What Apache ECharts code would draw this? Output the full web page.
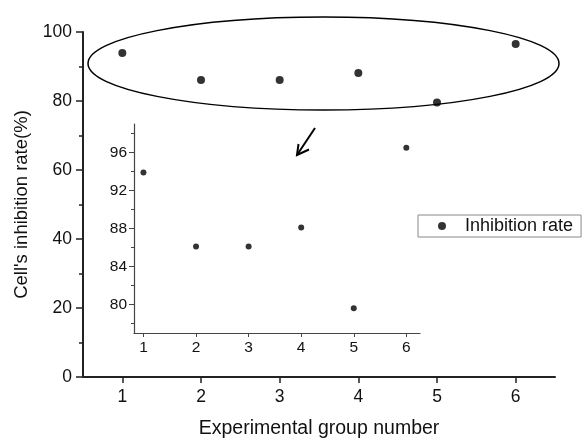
<!DOCTYPE html>
<html>
<head>
<meta charset="utf-8">
<script src="https://cdn.jsdelivr.net/npm/echarts@6/dist/echarts.min.js"></script>
<style>
  html, body { margin: 0; padding: 0; background: #fff; }
  #chart { width: 582px; height: 444px; }
</style>
</head>
<body>
<div id="chart"></div>
<script>
// data
const groups = [1, 2, 3, 4, 5, 6]
const inhibitionRate = [93.9, 86.1, 86.1, 88.1, 79.6, 96.5]
const insetYTicks = [80, 84, 88, 92, 96]
const insetYMinorTicks = [78, 82, 86, 90, 94, 98]

const points = groups.map((g, i) => [g, inhibitionRate[i]])

const font = "'Liberation Sans', Arial, sans-serif"
const ink = '#111'

const myChart = echarts.init(document.getElementById('chart'), null, { renderer: 'canvas' })

const option = {
  backgroundColor: '#fff',
  animation: false,
  textStyle: { fontFamily: font, color: ink },
  legend: {
    data: ['Inhibition rate'],
    left: 418,
    top: 215,
    padding: [2, 8, 2, 20],
    borderColor: '#888',
    borderWidth: 1,
    icon: 'circle',
    itemWidth: 36,
    itemHeight: 8,
    itemStyle: { color: '#000' },
    textStyle: { fontSize: 18, color: ink, fontFamily: font }
  },
  grid: [
    // main plot
    { left: 83, top: 32, right: 27, bottom: 64 },
    // inset
    { left: 134, top: 124, right: 162, bottom: 111 }
  ],
  xAxis: [{
    type: 'value',
    gridIndex: 0,
    min: 0.5,
    max: 6.5,
    name: 'Experimental group number',
    nameLocation: 'middle',
    nameGap: 42,
    nameTextStyle: { fontSize: 19.5, color: ink },
    axisLine: { lineStyle: { color: '#222', width: 2 } },
    axisTick: { customValues: groups, length: 6, lineStyle: { color: '#222', width: 1.5 } },
    axisLabel: { customValues: groups, fontSize: 17.5, color: ink, margin: 11 },
    splitLine: { show: false }
  }, {
    type: 'value',
    gridIndex: 1,
    min: 0.82,
    max: 6.26,
    axisLine: { lineStyle: { color: '#444', width: 1.2 } },
    axisTick: { customValues: groups, length: 4, lineStyle: { color: '#444' } },
    axisLabel: { customValues: groups, fontSize: 15.5, color: ink, margin: 7 },
    splitLine: { show: false }
  }],
  yAxis: [{
    type: 'value',
    gridIndex: 0,
    min: 0,
    max: 100,
    interval: 20,
    name: "Cell's inhibition rate(%)",
    nameLocation: 'middle',
    nameGap: 52,
    nameTextStyle: { fontSize: 18.5, color: ink },
    axisLine: { show: true, lineStyle: { color: '#222', width: 2 } },
    axisTick: { show: true, length: 7, lineStyle: { color: '#222', width: 1.5 } },
    minorTick: { show: true, splitNumber: 2, length: 4, lineStyle: { color: '#222', width: 1.5 } },
    axisLabel: { fontSize: 17.5, color: ink, margin: 11 },
    splitLine: { show: false }
  }, {
    type: 'value',
    gridIndex: 1,
    position: 'left',
    min: 77,
    max: 99,
    axisLine: { show: true, lineStyle: { color: '#444', width: 1.2 } },
    axisTick: { show: true, customValues: insetYTicks, length: 5, lineStyle: { color: '#444' } },
    axisLabel: { customValues: insetYTicks, fontSize: 15.5, color: ink, margin: 7 },
    splitLine: { show: false }
  }, {
    // minor ticks of the inset
    type: 'value',
    gridIndex: 1,
    position: 'left',
    offset: 0,
    min: 77,
    max: 99,
    axisLine: { show: false },
    axisTick: { show: true, customValues: insetYMinorTicks, length: 3, lineStyle: { color: '#444' } },
    axisLabel: { show: false },
    splitLine: { show: false }
  }],
  series: [{
    name: 'Inhibition rate',
    type: 'scatter',
    xAxisIndex: 0,
    yAxisIndex: 0,
    symbol: 'circle',
    symbolSize: 8,
    itemStyle: { color: '#000' },
    data: points
  }, {
    name: 'Inhibition rate',
    type: 'scatter',
    xAxisIndex: 1,
    yAxisIndex: 1,
    symbol: 'circle',
    symbolSize: 6,
    itemStyle: { color: '#000' },
    data: points
  }],
  // hand drawn annotations: ellipse round the top points and the arrow to the inset
  graphic: [{
    type: 'ellipse',
    shape: { cx: 323.5, cy: 63.5, rx: 235.5, ry: 46.5 },
    style: { fill: 'none', stroke: '#000', lineWidth: 1.5 },
    z: 10
  }, {
    type: 'polyline',
    shape: { points: [[315, 128], [297, 155]] },
    style: { stroke: '#000', lineWidth: 2, fill: 'none' },
    z: 10
  }, {
    type: 'polyline',
    shape: { points: [[298.5, 144], [297, 155], [309, 149.5]] },
    style: { stroke: '#000', lineWidth: 2, fill: 'none' },
    z: 10
  }]
}

myChart.setOption(option)
</script>
</body>
</html>
